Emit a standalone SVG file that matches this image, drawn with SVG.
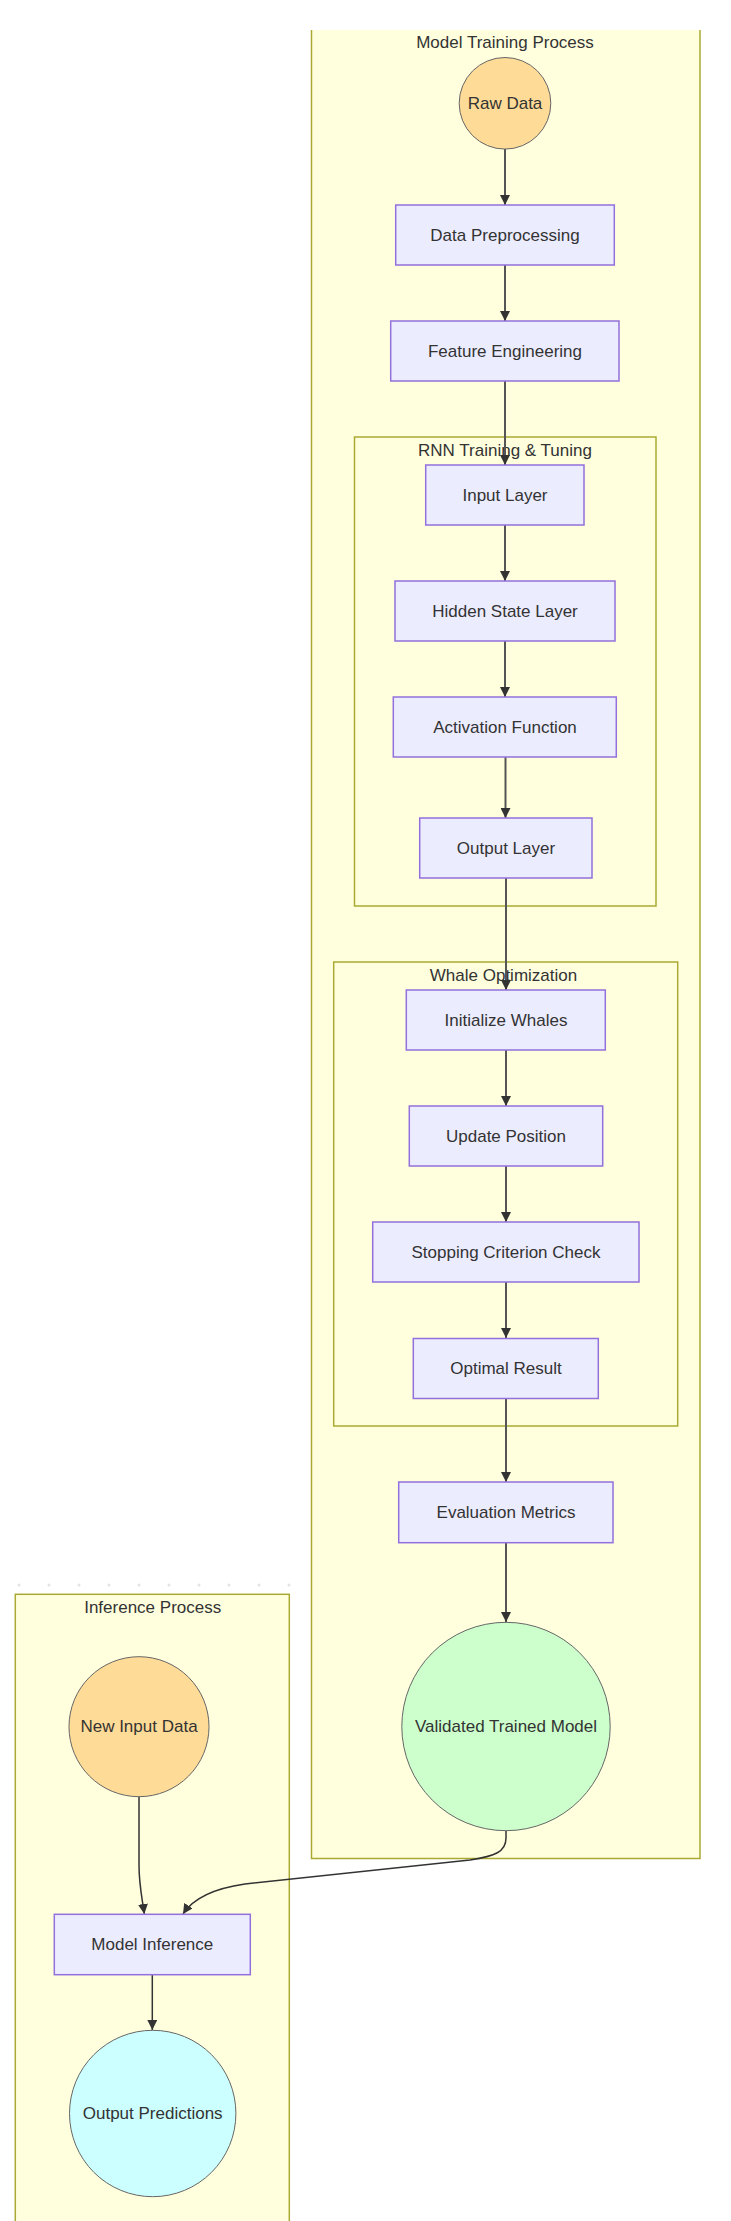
<svg xmlns="http://www.w3.org/2000/svg" width="731" height="2221" viewBox="0 0 731 2221">
<style>
text{font-family:"Liberation Sans",Arial,sans-serif;font-size:17px;fill:#333;text-anchor:middle;dominant-baseline:central}
.cl{fill:#ffffde;stroke:#aaaa33;stroke-width:1.5}
.clf{fill:#ffffde;stroke:none}
.cle{fill:none;stroke:#aaaa33;stroke-width:1.5}
.nd{fill:#ececff;stroke:#9370db;stroke-width:1.5}
.cir{stroke:#666;stroke-width:1}
.ln{fill:none;stroke:#555;stroke-width:2}
.lc{fill:none;stroke:#333;stroke-width:1.5}
.dot{fill:#e4e4e4}
</style>
<defs>
<marker id="ah" viewBox="0 0 10 10" refX="10" refY="5" markerUnits="userSpaceOnUse" markerWidth="10" markerHeight="10" orient="auto">
<path d="M0,0 L10,5 L0,10 z" fill="#333"/>
</marker>
</defs>
<rect width="731" height="2221" fill="#ffffff"/>

<g id="cluster-training">
<rect class="clf" x="311.5" y="30" width="388.5" height="1828.5"/>
<path class="cle" d="M311.5,30 V1858.5 H700 V30"/>
<text x="505" y="42">Model Training Process</text>
</g>
<g id="cluster-rnn">
<rect class="cl" x="354.5" y="437" width="301.5" height="469"/>
<text x="505" y="450">RNN Training &amp; Tuning</text>
</g>
<g id="cluster-whale">
<rect class="cl" x="333.7" y="962" width="344" height="464"/>
<text x="503.5" y="975">Whale Optimization</text>
</g>
<g id="cluster-inference">
<g id="dots">
<circle class="dot" cx="19" cy="1585" r="1.5"/><circle class="dot" cx="49" cy="1585" r="1.5"/><circle class="dot" cx="79" cy="1585" r="1.5"/><circle class="dot" cx="109" cy="1585" r="1.5"/><circle class="dot" cx="139" cy="1585" r="1.5"/><circle class="dot" cx="169" cy="1585" r="1.5"/><circle class="dot" cx="199" cy="1585" r="1.5"/><circle class="dot" cx="229" cy="1585" r="1.5"/><circle class="dot" cx="259" cy="1585" r="1.5"/><circle class="dot" cx="289" cy="1585" r="1.5"/>
</g>
<rect class="cl" x="15.3" y="1594.3" width="274" height="660"/>
<text x="152.7" y="1607">Inference Process</text>
</g>

<g id="connectors">
<path class="ln" d="M505,149 V205" marker-end="url(#ah)"/>
<path class="ln" d="M505,265 V321" marker-end="url(#ah)"/>
<path class="ln" d="M505,381 V465" marker-end="url(#ah)"/>
<path class="ln" d="M505,525 V581" marker-end="url(#ah)"/>
<path class="ln" d="M505,641 V697" marker-end="url(#ah)"/>
<path class="ln" d="M505.5,757 V818" marker-end="url(#ah)"/>
<path class="ln" d="M506,878 V990" marker-end="url(#ah)"/>
<path class="ln" d="M506,1050 V1106" marker-end="url(#ah)"/>
<path class="ln" d="M506,1166 V1222" marker-end="url(#ah)"/>
<path class="ln" d="M506,1282 V1338" marker-end="url(#ah)"/>
<path class="ln" d="M506,1398.5 V1482" marker-end="url(#ah)"/>
<path class="ln" d="M506,1543 V1622" marker-end="url(#ah)"/>
<path class="lc" d="M506,1831 V1838 C506,1852 495,1856 470,1860 L245,1884 C210,1889 192,1900 183,1914" marker-end="url(#ah)"/>
<path class="lc" d="M139,1797 V1865 C139,1885 142,1897 144.3,1914" marker-end="url(#ah)"/>
<path class="lc" d="M152.3,1975 V2030" marker-end="url(#ah)"/>
</g>

<g id="node-raw-data">
<circle class="cir" cx="505" cy="103.3" r="45.8" fill="#fedb96"/>
<text x="505" y="103.3">Raw Data</text>
</g>
<g id="node-data-preprocessing">
<rect class="nd" x="395.7" y="205" width="218.6" height="60"/>
<text x="505" y="235">Data Preprocessing</text>
</g>
<g id="node-feature-engineering">
<rect class="nd" x="390.7" y="321" width="228.3" height="60"/>
<text x="505" y="351">Feature Engineering</text>
</g>
<g id="node-input-layer">
<rect class="nd" x="425.7" y="465" width="158.3" height="60"/>
<text x="505" y="495">Input Layer</text>
</g>
<g id="node-hidden-state">
<rect class="nd" x="395" y="581" width="220" height="60"/>
<text x="505" y="611">Hidden State Layer</text>
</g>
<g id="node-activation">
<rect class="nd" x="393.3" y="697" width="223" height="60"/>
<text x="505" y="727">Activation Function</text>
</g>
<g id="node-output-layer">
<rect class="nd" x="419.7" y="818" width="172.3" height="60"/>
<text x="506" y="848">Output Layer</text>
</g>
<g id="node-init-whales">
<rect class="nd" x="406.3" y="990" width="199" height="60"/>
<text x="506" y="1020">Initialize Whales</text>
</g>
<g id="node-update-position">
<rect class="nd" x="409.3" y="1106" width="193.4" height="60"/>
<text x="506" y="1136">Update Position</text>
</g>
<g id="node-stopping">
<rect class="nd" x="372.7" y="1222" width="266.3" height="60"/>
<text x="506" y="1252">Stopping Criterion Check</text>
</g>
<g id="node-optimal">
<rect class="nd" x="413.3" y="1338.5" width="185" height="60"/>
<text x="506" y="1368.5">Optimal Result</text>
</g>
<g id="node-evaluation">
<rect class="nd" x="398.7" y="1482" width="214.3" height="60.7"/>
<text x="506" y="1512.3">Evaluation Metrics</text>
</g>
<g id="node-validated">
<circle class="cir" cx="506" cy="1726.5" r="104.2" fill="#ccffcc"/>
<text x="506" y="1726.5">Validated Trained Model</text>
</g>
<g id="node-new-input">
<circle class="cir" cx="139" cy="1726.7" r="70" fill="#fedb96"/>
<text x="139" y="1726.7">New Input Data</text>
</g>
<g id="node-model-inference">
<rect class="nd" x="54.3" y="1914.3" width="196" height="60.4"/>
<text x="152.3" y="1944.5">Model Inference</text>
</g>
<g id="node-output-predictions">
<circle class="cir" cx="152.7" cy="2113.5" r="83.2" fill="#ccffff"/>
<text x="152.7" y="2113.5">Output Predictions</text>
</g>
</svg>
